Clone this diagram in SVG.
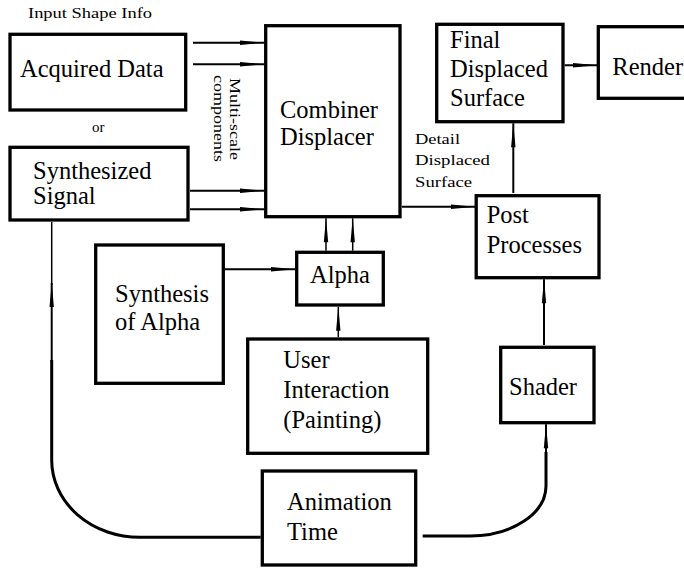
<svg xmlns="http://www.w3.org/2000/svg" width="684" height="571" viewBox="0 0 684 571">
  <style>
    .box { fill: #fff; stroke: #000; stroke-width: 3.3; }
    .lbl { font-family: "Liberation Serif", "Times New Roman", serif; font-size: 24.5px; fill: #000; }
    .sm { font-family: "Liberation Serif", "Times New Roman", serif; font-size: 15px; fill: #000; }
    .wire { fill: none; stroke: #000; stroke-width: 2; }
    .thin { fill: none; stroke: #000; stroke-width: 1.5; }
    .heavy { fill: none; stroke: #000; stroke-width: 3; }
  </style>
  <defs>
    <marker id="arrow" markerUnits="userSpaceOnUse" markerWidth="30" markerHeight="10" refX="26" refY="5" orient="auto" viewBox="0 0 30 10">
      <path d="M26,5 L2,2.8 L2,7.2 Z" fill="#000"/>
    </marker>
  </defs>

  <rect width="684" height="571" fill="#fff"/>

  <!-- free labels -->
  <text class="sm" x="28" y="17.5" font-size="14" textLength="124" lengthAdjust="spacingAndGlyphs">Input Shape Info</text>
  <text class="sm" x="92" y="131.5" font-size="16">or</text>
  <text class="sm" transform="translate(230,78) rotate(90)" textLength="82" lengthAdjust="spacingAndGlyphs">Multi-scale</text>
  <text class="sm" transform="translate(213.5,75) rotate(90)" textLength="87" lengthAdjust="spacingAndGlyphs">components</text>
  <text class="sm" x="415" y="143.5" textLength="45" lengthAdjust="spacingAndGlyphs">Detail</text>
  <text class="sm" x="415" y="165" textLength="75" lengthAdjust="spacingAndGlyphs">Displaced</text>
  <text class="sm" x="415" y="186.5" textLength="57" lengthAdjust="spacingAndGlyphs">Surface</text>

  <!-- connectors -->
  <g id="connectors">
    <line class="wire" x1="193" y1="42.7" x2="264" y2="42.7" marker-end="url(#arrow)"/>
    <line class="wire" x1="193" y1="64.3" x2="264" y2="64.3" marker-end="url(#arrow)"/>
    <line class="wire" x1="190" y1="190.7" x2="264" y2="190.7" marker-end="url(#arrow)"/>
    <line class="wire" x1="190" y1="209.3" x2="264" y2="209.3" marker-end="url(#arrow)"/>
    <line class="wire" x1="402" y1="206.7" x2="475" y2="206.7" marker-end="url(#arrow)"/>
    <line class="wire" x1="564.7" y1="65.3" x2="597" y2="65.3" marker-end="url(#arrow)"/>
    <line class="wire" x1="513.3" y1="193" x2="513.3" y2="123.3" marker-end="url(#arrow)"/>
    <line class="wire" x1="544" y1="345" x2="544" y2="279.3" marker-end="url(#arrow)"/>
    <line class="wire" x1="225" y1="269.3" x2="295" y2="269.3" marker-end="url(#arrow)"/>
    <line class="thin" x1="326" y1="250.7" x2="326" y2="218.3" marker-end="url(#arrow)"/>
    <line class="thin" x1="352.7" y1="250.7" x2="352.7" y2="218.3" marker-end="url(#arrow)"/>
    <line class="thin" x1="338.3" y1="337.3" x2="338.3" y2="306.7" marker-end="url(#arrow)"/>
    <!-- animation time feeds the shader -->
    <path class="heavy" d="M422.7,536 H470 A76,50 0 0 0 546,486 V452"/>
    <line class="wire" x1="546" y1="455" x2="546" y2="424.3" marker-end="url(#arrow)"/>
    <!-- animation time feeds the synthesized signal -->
    <path class="heavy" d="M260.7,537.3 H140 A88,77 0 0 1 51.7,460.3 V360"/>
    <line class="wire" x1="51.7" y1="362" x2="51.7" y2="283" marker-end="url(#arrow)"/>
    <line class="thin" x1="51.7" y1="285" x2="51.7" y2="222"/>
  </g>

  <g id="acquired-data">
    <rect class="box" x="10" y="34.3" width="175.7" height="75.7"/>
    <text class="lbl" x="20" y="77.3">Acquired Data</text>
  </g>
  <g id="synthesized-signal">
    <rect class="box" x="10" y="147.3" width="178" height="72.7"/>
    <text class="lbl" x="33" y="179">Synthesized</text>
    <text class="lbl" x="33" y="204.3">Signal</text>
  </g>
  <g id="combiner-displacer">
    <rect class="box" x="265.7" y="25.7" width="134.3" height="191"/>
    <text class="lbl" x="280" y="117.5">Combiner</text>
    <text class="lbl" x="280" y="145">Displacer</text>
  </g>
  <g id="final-displaced-surface">
    <rect class="box" x="436.7" y="24.3" width="126.3" height="97.4"/>
    <text class="lbl" x="450" y="48.3">Final</text>
    <text class="lbl" x="450" y="77.3">Displaced</text>
    <text class="lbl" x="450" y="106">Surface</text>
  </g>
  <g id="render">
    <rect class="box" x="598.3" y="26.7" width="110" height="71.6"/>
    <text class="lbl" x="612.3" y="75">Render</text>
  </g>
  <g id="post-processes">
    <rect class="box" x="476.2" y="195.7" width="122.8" height="82"/>
    <text class="lbl" x="486.7" y="222.7">Post</text>
    <text class="lbl" x="486.7" y="253.3">Processes</text>
  </g>
  <g id="synthesis-of-alpha">
    <rect class="box" x="95.7" y="245" width="127.6" height="138.3"/>
    <text class="lbl" x="115" y="301.7">Synthesis</text>
    <text class="lbl" x="115" y="330">of Alpha</text>
  </g>
  <g id="alpha">
    <rect class="box" x="296.7" y="252.3" width="86.6" height="52.7"/>
    <text class="lbl" x="310" y="283.3">Alpha</text>
  </g>
  <g id="user-interaction">
    <rect class="box" x="247.7" y="339" width="180" height="114.3"/>
    <text class="lbl" x="283.3" y="368.3">User</text>
    <text class="lbl" x="283.3" y="398.3">Interaction</text>
    <text class="lbl" x="283.3" y="428.3">(Painting)</text>
  </g>
  <g id="shader">
    <rect class="box" x="500.7" y="347.3" width="93.3" height="75.4"/>
    <text class="lbl" x="509" y="395">Shader</text>
  </g>
  <g id="animation-time">
    <rect class="box" x="262.3" y="471" width="153.4" height="94"/>
    <text class="lbl" x="287" y="510">Animation</text>
    <text class="lbl" x="287" y="540">Time</text>
  </g>
</svg>
